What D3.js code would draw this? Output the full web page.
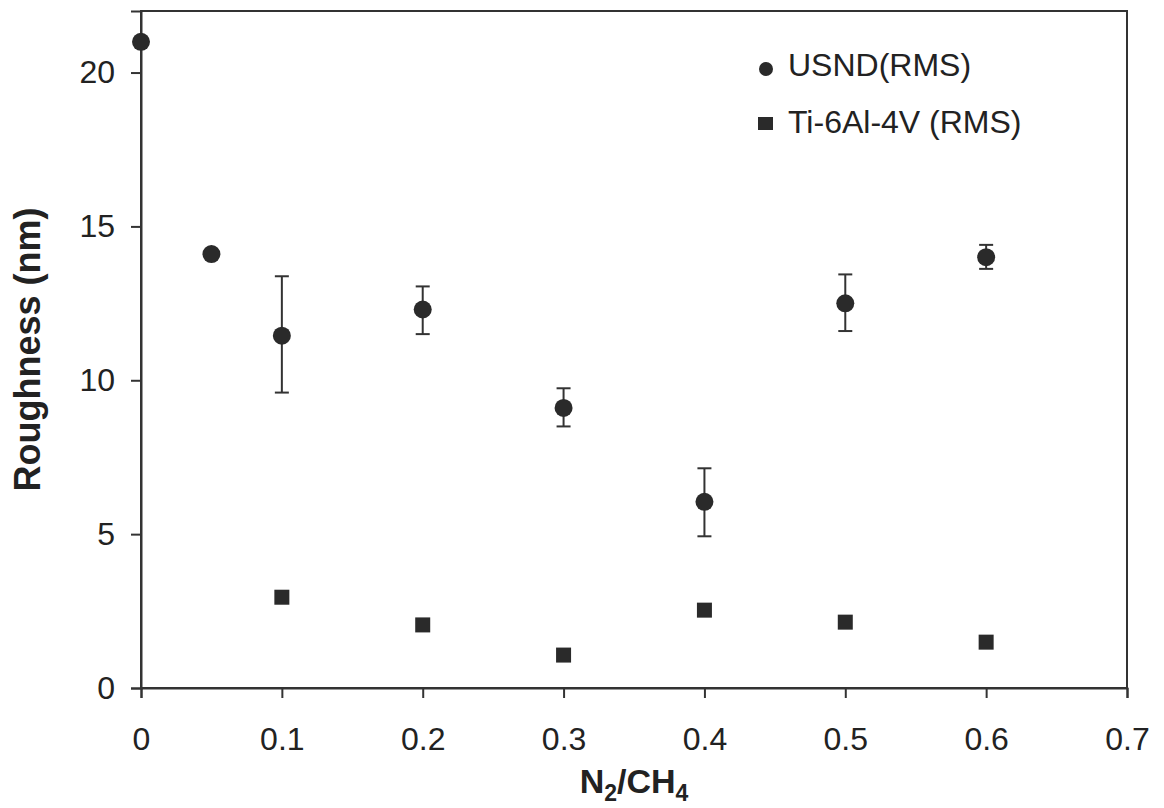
<!doctype html>
<html>
<head>
<meta charset="UTF-8">
<script src="https://d3js.org/d3.v7.min.js"></script>
<style>
  body { margin: 0; background: #fff; }
  text { font-family: "Liberation Sans", Arial, sans-serif; fill: #222; }
</style>
</head>
<body>
<div id="graph"></div>
<script>
// data
var usndX   = [0, 0.05, 0.1, 0.2, 0.3, 0.4, 0.5, 0.6];
var usndY   = [21, 14.1, 11.45, 12.3, 9.1, 6.05, 12.5, 14.0];
var usndHi  = [null, null, 13.38, 13.05, 9.74, 7.14, 13.44, 14.4];
var usndLo  = [null, null, 9.6, 11.5, 8.5, 4.93, 11.6, 13.62];
var tiX     = [0.1, 0.2, 0.3, 0.4, 0.5, 0.6];
var tiY     = [2.95, 2.05, 1.07, 2.53, 2.14, 1.49];
var xTicks  = [0, 0.1, 0.2, 0.3, 0.4, 0.5, 0.6, 0.7];
var yTicks  = [0, 5, 10, 15, 20];

var w = 1164, h = 808;
var m = {left: 141, right: 37, top: 11, bottom: 120};

var svg = d3.select("#graph").append("svg")
    .attr("width", w).attr("height", h);

var x = d3.scaleLinear().domain([0, 0.7]).range([m.left, w - m.right]);
var y = d3.scaleLinear().domain([0, 22]).range([h - m.bottom, m.top]);

var ink = "#333";

// frame
svg.append("rect")
    .attr("x", x(0)).attr("y", y(22))
    .attr("width", x(0.7) - x(0)).attr("height", y(0) - y(22))
    .attr("fill", "none").attr("stroke", ink).attr("stroke-width", 2);

var xAxis = svg.append("g")
    .attr("transform", "translate(0," + y(0) + ")")
    .call(d3.axisBottom(x).tickValues(xTicks).tickSize(10).tickPadding(29)
        .tickFormat(function(d) { return d === 0 ? "0" : d3.format(".1f")(d); }));

var yAxis = svg.append("g")
    .attr("transform", "translate(" + x(0) + ",0)")
    .call(d3.axisLeft(y).tickValues(yTicks).tickSize(10).tickPadding(16));

[xAxis, yAxis].forEach(function(a) {
  a.select(".domain").attr("stroke", ink).attr("stroke-width", 2);
  a.selectAll(".tick line").attr("stroke", ink).attr("stroke-width", 2);
  a.selectAll(".tick text").style("font-size", "32px")
      .style("font-family", "'Liberation Sans', Arial, sans-serif").attr("fill", "#222");
});

// error bars
var eb = usndX.map(function(d, i) { return {x: d, hi: usndHi[i], lo: usndLo[i]}; })
    .filter(function(d) { return d.hi !== null; });

var ebg = svg.append("g").attr("stroke", ink).attr("stroke-width", 2);
ebg.selectAll(".v").data(eb).enter().append("line")
    .attr("x1", function(d) { return x(d.x); }).attr("x2", function(d) { return x(d.x); })
    .attr("y1", function(d) { return y(d.hi); }).attr("y2", function(d) { return y(d.lo); });
ebg.selectAll(".t").data(eb).enter().append("line")
    .attr("x1", function(d) { return x(d.x) - 7; }).attr("x2", function(d) { return x(d.x) + 7; })
    .attr("y1", function(d) { return y(d.hi); }).attr("y2", function(d) { return y(d.hi); });
ebg.selectAll(".b").data(eb).enter().append("line")
    .attr("x1", function(d) { return x(d.x) - 7; }).attr("x2", function(d) { return x(d.x) + 7; })
    .attr("y1", function(d) { return y(d.lo); }).attr("y2", function(d) { return y(d.lo); });

// points
var mark = "#2a2a2a";
svg.selectAll(".usnd").data(usndX).enter().append("circle")
    .attr("cx", function(d) { return x(d); })
    .attr("cy", function(d, i) { return y(usndY[i]); })
    .attr("r", 9).attr("fill", mark);

var sq = 15;
svg.selectAll(".ti").data(tiX).enter().append("rect")
    .attr("x", function(d) { return x(d) - sq / 2; })
    .attr("y", function(d, i) { return y(tiY[i]) - sq / 2; })
    .attr("width", sq).attr("height", sq).attr("fill", mark);

// legend
svg.append("circle").attr("cx", 766).attr("cy", 69).attr("r", 7).attr("fill", mark);
svg.append("text").attr("x", 788).attr("y", 76).style("font-size", "32px").text("USND(RMS)");
svg.append("rect").attr("x", 758).attr("y", 117).attr("width", 15).attr("height", 13).attr("fill", mark);
svg.append("text").attr("x", 788).attr("y", 133).style("font-size", "32px").text("Ti-6Al-4V (RMS)");

// axis titles
svg.append("text")
    .attr("transform", "translate(40," + ((y(0) + y(22)) / 2) + ") rotate(-90)")
    .attr("text-anchor", "middle")
    .style("font-size", "36px").style("font-weight", "bold")
    .text("Roughness (nm)");

var xt = svg.append("text")
    .attr("x", (x(0) + x(0.7)) / 2).attr("y", 793)
    .attr("text-anchor", "middle")
    .style("font-size", "34px").style("font-weight", "bold");
xt.append("tspan").text("N");
xt.append("tspan").attr("dy", 8).style("font-size", "23px").text("2");
xt.append("tspan").attr("dy", -8).text("/CH");
xt.append("tspan").attr("dy", 8).style("font-size", "23px").text("4");
</script>
</body>
</html>
